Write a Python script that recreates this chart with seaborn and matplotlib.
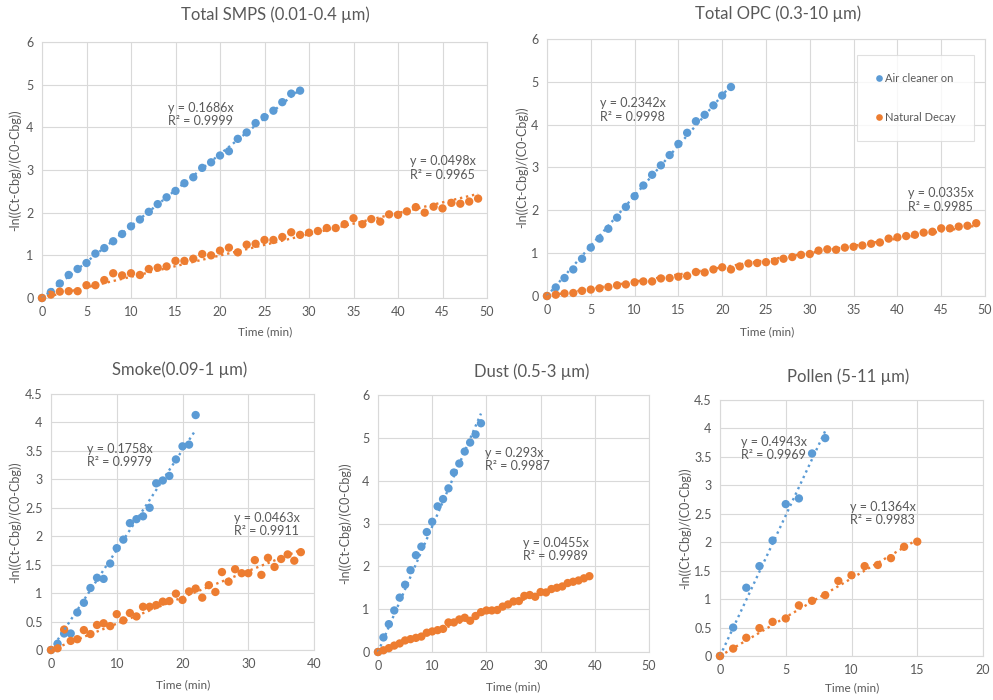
#!/usr/bin/env python3

from collections import namedtuple

import numpy as np
import pandas as pd
import matplotlib
matplotlib.use('Agg')
import matplotlib.pyplot as plt
import seaborn as sns

BLUE = '#5B9BD5'
ORANGE = '#ED7D31'
GREY = '#595959'
GRID = '#D9D9D9'

SERIES = ['Air cleaner on', 'Natural Decay']

# ---- data ----
smps_on = [0, 0.14, 0.34, 0.54, 0.68, 0.82, 1.04, 1.17, 1.33, 1.50, 1.68, 1.84,
           2.02, 2.20, 2.36, 2.51, 2.69, 2.83, 3.05, 3.18, 3.34, 3.44, 3.73,
           3.88, 4.10, 4.24, 4.39, 4.59, 4.79, 4.86]
smps_off = [0, 0.08, 0.15, 0.16, 0.16, 0.30, 0.30, 0.42, 0.58, 0.53, 0.58, 0.54,
            0.68, 0.71, 0.74, 0.87, 0.87, 0.92, 1.03, 1.00, 1.11, 1.18, 1.07,
            1.25, 1.27, 1.36, 1.36, 1.43, 1.54, 1.48, 1.53, 1.57, 1.64, 1.64,
            1.73, 1.87, 1.73, 1.85, 1.79, 1.96, 1.95, 2.03, 2.13, 2.00, 2.14,
            2.10, 2.23, 2.21, 2.26, 2.33]

opc_on = [0, 0.20, 0.42, 0.62, 0.87, 1.13, 1.34, 1.57, 1.83, 2.08, 2.33, 2.58,
          2.83, 3.05, 3.29, 3.55, 3.81, 4.08, 4.23, 4.45, 4.68, 4.88]
opc_off = [0, 0.03, 0.06, 0.07, 0.12, 0.15, 0.18, 0.21, 0.25, 0.27, 0.32, 0.34,
           0.34, 0.41, 0.42, 0.45, 0.47, 0.56, 0.55, 0.62, 0.67, 0.62, 0.69,
           0.76, 0.77, 0.79, 0.81, 0.87, 0.91, 0.96, 0.98, 1.06, 1.09, 1.08,
           1.13, 1.15, 1.18, 1.22, 1.25, 1.34, 1.37, 1.40, 1.43, 1.48, 1.50,
           1.58, 1.58, 1.62, 1.64, 1.70]

smoke_on = [0, 0.11, 0.29, 0.29, 0.66, 0.83, 1.09, 1.27, 1.25, 1.52, 1.79, 1.94,
            2.23, 2.30, 2.35, 2.50, 2.93, 2.98, 3.06, 3.35, 3.58, 3.61, 4.13]
smoke_off = [0, 0.03, 0.36, 0.16, 0.19, 0.35, 0.28, 0.44, 0.47, 0.42, 0.63, 0.52,
             0.65, 0.59, 0.76, 0.76, 0.79, 0.85, 0.86, 0.99, 0.88, 1.03, 1.08,
             0.92, 1.14, 1.02, 1.37, 1.20, 1.42, 1.35, 1.35, 1.58, 1.32, 1.62,
             1.46, 1.60, 1.68, 1.57, 1.72]

dust_on = [0, 0.34, 0.65, 0.97, 1.27, 1.57, 1.91, 2.26, 2.46, 2.80, 3.04, 3.40,
           3.57, 3.82, 4.19, 4.40, 4.68, 4.89, 5.08, 5.34]
dust_off = [0, 0.04, 0.09, 0.15, 0.20, 0.27, 0.30, 0.33, 0.36, 0.45, 0.48, 0.51,
            0.54, 0.69, 0.69, 0.76, 0.80, 0.73, 0.84, 0.93, 0.97, 0.97, 0.98,
            1.06, 1.11, 1.18, 1.19, 1.31, 1.33, 1.29, 1.40, 1.39, 1.47, 1.50,
            1.53, 1.61, 1.64, 1.67, 1.72, 1.77]

pollen_on = [0, 0.50, 1.20, 1.58, 2.03, 2.67, 2.77, 3.56, 3.83]
pollen_off = [0, 0.13, 0.32, 0.49, 0.60, 0.66, 0.89, 0.97, 1.07, 1.32, 1.42,
              1.58, 1.60, 1.72, 1.92, 2.01]

titles = ['Total SMPS (0.01-0.4 µm)', 'Total OPC (0.3-10 µm)',
          'Smoke(0.09-1 µm)', 'Dust (0.5-3 µm)', 'Pollen (5-11 µm)']
slopes_on = [0.1686, 0.2342, 0.1758, 0.293, 0.4943]
r2_on = ['0.9999', '0.9998', '0.9979', '0.9987', '0.9969']
slopes_off = [0.0498, 0.0335, 0.0463, 0.0455, 0.1364]
r2_off = ['0.9965', '0.9985', '0.9911', '0.9989', '0.9983']

# ---- layout (pixels in a 993x700 figure) ----
Panel = namedtuple('Panel', ['box', 'xmax', 'xstep', 'ymax', 'ystep',
                             'title_xy', 'xlab_xy', 'ylab_x',
                             'eq_on_xy', 'eq_off_xy'])
PANELS = [
    Panel((42, 487, 42, 298), 50, 5, 6, 1, (275, 15), (265, 332), 15,
          (14.2, 4.60), (41.3, 3.35)),
    Panel((547, 985, 39, 296), 50, 5, 6, 1, (778, 14), (767, 332), 522,
          (6.05, 4.64), (41.2, 2.54)),
    Panel((51, 314, 394, 650), 40, 10, 4.5, 0.5, (180, 370), (183, 685), 15,
          (5.4, 3.64), (27.8, 2.43)),
    Panel((378, 649, 395, 652), 50, 10, 6, 1, (532, 372), (513, 687), 345,
          (19.8, 4.79), (26.75, 2.69)),
    Panel((720, 983, 400, 656), 20, 5, 4.5, 0.5, (848, 377), (852, 688), 685,
          (1.57, 3.87), (9.92, 2.73)),
]

ON = [smps_on, opc_on, smoke_on, dust_on, pollen_on]
OFF = [smps_off, opc_off, smoke_off, dust_off, pollen_off]

W, H = 993, 700

sns.set_theme(style='white')
plt.rcParams['font.family'] = ['Lato', 'DejaVu Sans']

fig = plt.figure(figsize=(W / 100, H / 100), dpi=100)
fig.patch.set_facecolor('white')

palette = {SERIES[0]: BLUE, SERIES[1]: ORANGE}

for i, p in enumerate(PANELS):
    l, r, t, b = p.box
    ax = fig.add_axes([l / W, 1 - b / H, (r - l) / W, (b - t) / H])

    on = np.array(ON[i])
    off = np.array(OFF[i])
    df = pd.DataFrame({
        'time': np.concatenate([np.arange(len(on)), np.arange(len(off))]),
        'value': np.concatenate([on, off]),
        'series': [SERIES[0]] * len(on) + [SERIES[1]] * len(off),
    })

    sns.scatterplot(data=df, x='time', y='value', hue='series',
                    palette=palette, s=36, linewidth=0, ax=ax,
                    legend=(i == 1), clip_on=False, zorder=3)

    # linear trendlines through the origin (dotted, Excel style)
    for vals, k, col in [(on, slopes_on[i], BLUE), (off, slopes_off[i], ORANGE)]:
        xe = len(vals) - 1
        ax.plot([0, xe], [0, k * xe], ls=(0, (1, 1.6)), lw=1.7,
                color=col, zorder=4, clip_on=False)

    ax.text(*p.eq_on_xy, f'y = {slopes_on[i]:g}x\nR² = {r2_on[i]}',
            ha='left', va='top', fontsize=9, color=GREY, linespacing=1.15)
    ax.text(*p.eq_off_xy, f'y = {slopes_off[i]:g}x\nR² = {r2_off[i]}',
            ha='left', va='top', fontsize=9, color=GREY, linespacing=1.15)

    ax.set_xlim(0, p.xmax)
    ax.set_ylim(0, p.ymax)
    ax.set_xticks(np.arange(0, p.xmax + 0.01, p.xstep))
    ax.set_yticks(np.arange(0, p.ymax + 0.01, p.ystep))
    ax.set_yticklabels([f'{v:g}' for v in ax.get_yticks()])
    ax.set_xticklabels([f'{v:g}' for v in ax.get_xticks()])
    ax.tick_params(length=0, labelsize=9, colors=GREY, pad=6)
    ax.grid(True, color=GRID, lw=0.8)
    ax.set_axisbelow(True)
    for sp in ax.spines.values():
        sp.set_color(GRID)
        sp.set_linewidth(0.8)
    ax.set_xlabel('')
    ax.set_ylabel('')

    fig.text(p.title_xy[0] / W, 1 - p.title_xy[1] / H, titles[i],
             ha='center', va='center', fontsize=12, color=GREY)
    fig.text(p.xlab_xy[0] / W, 1 - p.xlab_xy[1] / H, 'Time (min)',
             ha='center', va='center', fontsize=8.5, color=GREY)
    fig.text(p.ylab_x / W, 1 - ((t + b) / 2) / H, '-ln((Ct-Cbg)/(C0-Cbg))',
             ha='center', va='center', rotation=90, fontsize=9, color=GREY)

    if i == 1:
        leg = ax.legend(loc='upper left',
                        bbox_to_anchor=(857 / W, 1 - 55 / H),
                        bbox_transform=fig.transFigure, borderaxespad=0,
                        fontsize=8, labelspacing=2.5, borderpad=1.65,
                        handlelength=0.6, handletextpad=0.3,
                        frameon=True, fancybox=False, markerscale=0.8)
        leg.get_frame().set_edgecolor(GRID)
        leg.get_frame().set_linewidth(0.8)
        for txt in leg.get_texts():
            txt.set_color(GREY)

fig.savefig('out.png', dpi=100, facecolor='white')
